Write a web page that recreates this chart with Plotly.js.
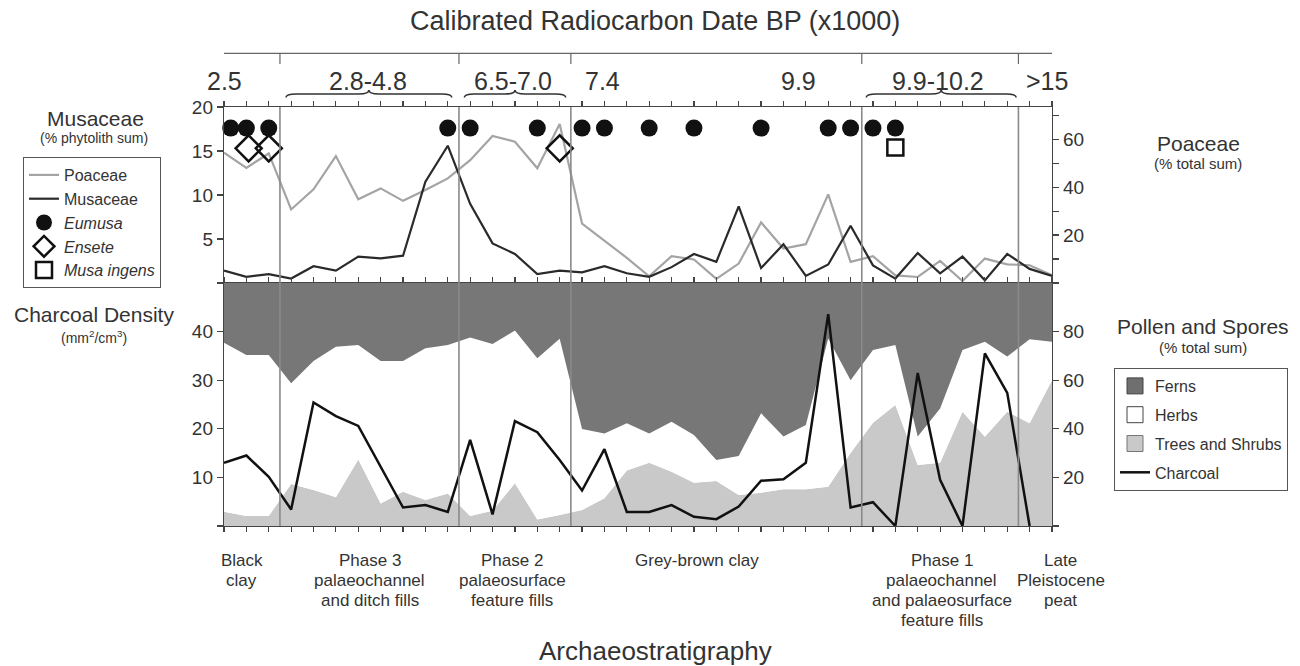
<!DOCTYPE html>
<html>
<head>
<meta charset="utf-8">
<script src="https://cdn.plot.ly/plotly-3.0.1.min.js"></script>
<style>html,body{margin:0;padding:0;background:#fff}#chart{width:1300px;height:666px}</style>
</head>
<body>
<div id="chart"></div>
<script>
// ---------- DATA (sample index 0..37) ----------
const sampleIdx = [0,1,2,3,4,5,6,7,8,9,10,11,12,13,14,15,16,17,18,19,20,21,22,23,24,25,26,27,28,29,30,31,32,33,34,35,36,37];

// Musaceae (% phytolith sum) – left axis, top panel
const musaceae = [1.4,0.7,1.0,0.5,1.9,1.4,3.0,2.8,3.1,11.5,15.6,9.0,4.5,3.3,1.0,1.4,1.2,1.9,1.1,0.7,1.8,3.3,2.4,8.7,1.7,4.4,0.8,2.1,6.5,2.0,0.5,3.4,1.1,3.0,0.3,3.3,1.6,0.8];
// Poaceae (% total sum) – right axis, top panel
const poaceae = [54.4,48.1,54.1,30.7,39.1,53.0,35.0,39.5,34.3,38.8,43.7,51.3,61.4,59.0,47.9,66.4,24.8,17.6,10.5,2.8,11.2,9.8,1.7,8.1,25.3,14.4,16.2,37.0,8.8,11.2,3.2,2.5,9.2,0.8,10.2,7.8,7.4,3.2];

// Phytolith presence markers
const eumusaX = [0.3,1,2,10,11,14,16,17,19,21,24,27,28,29,30];
const eumusaY = [17.6,17.6,17.6,17.6,17.6,17.6,17.6,17.6,17.6,17.6,17.6,17.6,17.6,17.6,17.6];
const enseteX = [1.1,2,15];
const enseteY = [15.3,15.3,15.3];
const musaIngensX = [30];
const musaIngensY = [15.4];

// Pollen and spores (% total sum) – bottom panel
const trees = [5.9,4.1,4.1,17.3,14.8,11.8,27.4,9.3,14.1,10.7,13.4,4.1,6.3,17.6,2.7,4.5,6.6,11.4,22.8,26.0,22.3,17.8,18.5,12.8,13.7,15.1,15.1,16.2,30.0,42.5,49.8,25.1,26.0,47.0,36.7,47.0,42.3,60.0];
const herbs = [69.5,66.3,66.3,41.4,53.1,62.0,47.1,58.6,53.8,62.4,61.1,73.5,68.6,62.8,66.3,72.5,33.3,26.7,19.5,12.1,20.6,19.6,8.7,16.0,32.7,21.7,26.5,61.0,30.0,29.9,24.7,11.7,22.4,25.4,39.1,22.7,34.5,15.8];
const ferns = [24.6,29.6,29.6,41.3,32.1,26.2,25.5,32.1,32.1,26.9,25.5,22.4,25.1,19.6,31.0,23.0,60.1,61.9,57.7,61.9,57.1,62.6,72.8,71.2,53.6,63.2,58.4,22.8,40.0,27.6,25.5,63.2,51.6,27.6,24.2,30.3,23.2,24.2];
// Charcoal density (mm2/cm3)
const charcoal = [13.0,14.5,10.1,3.4,25.4,22.6,20.6,12.2,3.8,4.3,2.9,17.7,2.4,21.6,19.3,13.6,7.3,15.8,2.9,2.9,4.3,1.9,1.4,4.0,9.3,9.6,13.0,43.6,3.8,4.9,0,31.5,9.5,0,35.5,27.4,0,null];

// Axis tick labels
const musTicks = [5,10,15,20];
const poaTicks = [20,40,60];
const charTicks = [10,20,30,40];
const pollenTicks = [20,40,60,80];

// Stratigraphic unit boundaries (between samples)
const unitBounds = [2.5,10.5,15.5,28.5,35.5];
// Radiocarbon date labels
const dateLabels = ['2.5','2.8-4.8','6.5-7.0','7.4','9.9','9.9-10.2','>15'];
const dateLabelPos = [0.04,6.45,12.91,16.93,25.66,31.92,36.76];
// Date range braces [start, end]
const braceStart = [2.77,10.74,28.7];
const braceEnd = [10.18,15.27,35.4];
// Archaeostratigraphy labels
const unitLabels = ['Black<br>clay','Phase 3<br>palaeochannel<br>and ditch fills','Phase 2<br>palaeosurface<br>feature fills','Grey-brown clay','Phase 1<br>palaeochannel<br>and palaeosurface<br>feature fills','Late<br>Pleistocene<br>peat'];
const unitLabelPos = [0.8,6.52,12.87,21.14,32.08,37.4];

// ---------- LAYOUT HELPERS ----------
const FONT = 'Liberation Sans, Arial, sans-serif';
const TXT = '#333';
const L = 224, R = 1052, T = 107, B = 526;
const XMAX = 37;
const px = x => (x - L) / (R - L);
const py = y => (B - y) / (B - T);

const traces = [
  {x: sampleIdx, y: poaceae, xaxis: 'x', yaxis: 'y', mode: 'lines', name: 'Poaceae',
   line: {color: '#a4a4a4', width: 2.2}, legend: 'legend'},
  {x: sampleIdx, y: musaceae, xaxis: 'x', yaxis: 'y2', mode: 'lines', name: 'Musaceae',
   line: {color: '#2a2a2a', width: 2.2}, legend: 'legend'},
  {x: eumusaX, y: eumusaY, xaxis: 'x', yaxis: 'y2', mode: 'markers', name: '<i>Eumusa</i>',
   marker: {symbol: 'circle', size: 17, color: '#111'}, cliponaxis: false, legend: 'legend'},
  {x: enseteX, y: enseteY, xaxis: 'x', yaxis: 'y2', mode: 'markers', name: '<i>Ensete</i>',
   marker: {symbol: 'diamond-open', size: 20, color: '#111', line: {width: 2.5, color: '#111'}}, cliponaxis: false, legend: 'legend'},
  {x: musaIngensX, y: musaIngensY, xaxis: 'x', yaxis: 'y2', mode: 'markers', name: '<i>Musa ingens</i>',
   marker: {symbol: 'square-open', size: 16, color: '#111', line: {width: 2.5, color: '#111'}}, cliponaxis: false, legend: 'legend'},
  // stacked pollen areas
  {x: sampleIdx, y: trees, xaxis: 'x2', yaxis: 'y3', mode: 'none', stackgroup: 'pollen', fillcolor: '#c9c9c9', showlegend: false, hoverinfo: 'skip'},
  {x: sampleIdx, y: herbs, xaxis: 'x2', yaxis: 'y3', mode: 'none', stackgroup: 'pollen', fillcolor: '#ffffff', showlegend: false, hoverinfo: 'skip'},
  {x: sampleIdx, y: ferns, xaxis: 'x2', yaxis: 'y3', mode: 'none', stackgroup: 'pollen', fillcolor: '#777777', showlegend: false, hoverinfo: 'skip'},
  // legend entries for areas
  {x: [null], y: [null], xaxis: 'x2', yaxis: 'y3', mode: 'markers', name: 'Ferns', legend: 'legend2', legendgroup: 'f',
   marker: {symbol: 'square', size: 16, color: '#6f6f6f', line: {color: '#444', width: 1}}},
  {x: [null], y: [null], xaxis: 'x2', yaxis: 'y3', mode: 'markers', name: 'Herbs', legend: 'legend2', legendgroup: 'h',
   marker: {symbol: 'square', size: 16, color: '#ffffff', line: {color: '#444', width: 1}}},
  {x: [null], y: [null], xaxis: 'x2', yaxis: 'y3', mode: 'markers', name: 'Trees and Shrubs', legend: 'legend2', legendgroup: 't',
   marker: {symbol: 'square', size: 16, color: '#c9c9c9', line: {color: '#777', width: 1}}},
  {x: sampleIdx, y: charcoal, xaxis: 'x2', yaxis: 'y4', mode: 'lines', name: 'Charcoal', legend: 'legend2', legendgroup: 'c',
   line: {color: '#111', width: 2.5}}
];

const xCommon = {range: [0, XMAX], showline: true, linecolor: '#444', linewidth: 1.2, mirror: 'ticks',
  ticks: 'outside', ticklen: 5, tickcolor: '#444', tickwidth: 1.2, tick0: 0, dtick: 1,
  showticklabels: false, showgrid: false, zeroline: false};
const yCommon = {showline: true, linecolor: '#444', linewidth: 1.2, ticks: 'outside', ticklen: 6,
  tickcolor: '#444', tickwidth: 1.2, showgrid: false, zeroline: false,
  tickfont: {family: FONT, size: 19, color: TXT}, tickmode: 'array'};
const minorT = d => ({ticks: 'outside', ticklen: 6, tickcolor: '#444', tickwidth: 1.2, tick0: 0, dtick: d, showgrid: false});

const shapes = [];
unitBounds.forEach(b => {
  shapes.push({type: 'line', xref: 'x', yref: 'paper', x0: b, x1: b, y0: 0, y1: 1,
    line: {color: '#8a8a8a', width: 1.6}, layer: 'above'});
  shapes.push({type: 'line', xref: 'x', yref: 'paper', x0: b, x1: b, y0: py(53.3), y1: py(64),
    line: {color: '#666', width: 1.2}});
});
shapes.push({type: 'line', xref: 'x', yref: 'paper', x0: -0.94, x1: 38.12, y0: py(53.3), y1: py(53.3),
  line: {color: '#666', width: 1.2}});
const yE = py(97.5), yBd = py(94), yTp = py(90);
braceStart.forEach((a, i) => {
  const b = braceEnd[i], m = (a + b) / 2, d = 0.45;
  shapes.push({type: 'path', xref: 'x', yref: 'paper',
    path: `M ${a},${yE} Q ${a},${yBd} ${a+d},${yBd} L ${m-d},${yBd} Q ${m},${yBd} ${m},${yTp} Q ${m},${yBd} ${m+d},${yBd} L ${b-d},${yBd} Q ${b},${yBd} ${b},${yE}`,
    line: {color: '#333', width: 1.6}});
});

const ann = [];
const addT = (text, x, y, size, extra) => ann.push(Object.assign({text, x, y, xref: 'paper', yref: 'paper',
  showarrow: false, xanchor: 'center', yanchor: 'middle', font: {family: FONT, size, color: TXT}}, extra || {}));
addT('Calibrated Radiocarbon Date BP (x1000)', px(655), py(21), 27);
addT('Archaeostratigraphy', px(655), py(651), 26);
addT('Musaceae', px(95), py(118), 21);
addT('(% phytolith sum)', px(94), py(138), 14);
addT('Charcoal Density', px(94), py(314), 21);
addT('(mm<sup>2</sup>/cm<sup>3</sup>)', px(94), py(337), 14);
addT('Poaceae', px(1198), py(143), 21);
addT('(% total sum)', px(1198), py(163), 15);
addT('Pollen and Spores', px(1203), py(326), 21);
addT('(% total sum)', px(1203), py(347), 15);
dateLabels.forEach((t, i) => addT(t, dateLabelPos[i] / XMAX, py(81), 25));
unitLabels.forEach((t, i) => {
  t.split('<br>').forEach((line, j) => addT(line, unitLabelPos[i] / XMAX, py(560 + 20 * j), 17));
});

const layout = {
  width: 1300, height: 666,
  margin: {l: L, r: 1300 - R, t: T, b: 666 - B},
  paper_bgcolor: '#fff', plot_bgcolor: '#fff',
  font: {family: FONT, color: TXT},
  showlegend: true,
  xaxis: Object.assign({}, xCommon, {anchor: 'y', domain: [0, 1]}),
  xaxis2: Object.assign({}, xCommon, {anchor: 'y3', domain: [0, 1], matches: 'x'}),
  yaxis: Object.assign({}, yCommon, {domain: [0.58, 1], anchor: 'x', side: 'right', range: [0, 73.5],
    tickvals: poaTicks, ticktext: poaTicks.map(String), minor: minorT(10)}),
  yaxis2: Object.assign({}, yCommon, {overlaying: 'y', anchor: 'x', side: 'left', range: [0, 20],
    tickvals: musTicks, ticktext: musTicks.map(String), minor: minorT(5)}),
  yaxis3: Object.assign({}, yCommon, {domain: [0, 0.58], anchor: 'x2', side: 'right', range: [0, 100],
    tickvals: pollenTicks, ticktext: pollenTicks.map(String), minor: minorT(20)}),
  yaxis4: Object.assign({}, yCommon, {overlaying: 'y3', anchor: 'x2', side: 'left', range: [0, 50],
    tickvals: charTicks, ticktext: charTicks.map(String), minor: minorT(10)}),
  legend: {x: px(23), y: py(157), xanchor: 'left', yanchor: 'top', bgcolor: '#fff',
    bordercolor: '#555', borderwidth: 1, font: {family: FONT, size: 16, color: TXT}, traceorder: 'normal', itemwidth: 30},
  legend2: {x: px(1114), y: py(368), xanchor: 'left', yanchor: 'top', bgcolor: '#fff',
    bordercolor: '#555', borderwidth: 1, font: {family: FONT, size: 16, color: TXT}, traceorder: 'grouped', tracegroupgap: 5, itemwidth: 30},
  shapes: shapes,
  annotations: ann
};

Plotly.newPlot('chart', traces, layout, {displayModeBar: false, staticPlot: true});
</script>
</body>
</html>
